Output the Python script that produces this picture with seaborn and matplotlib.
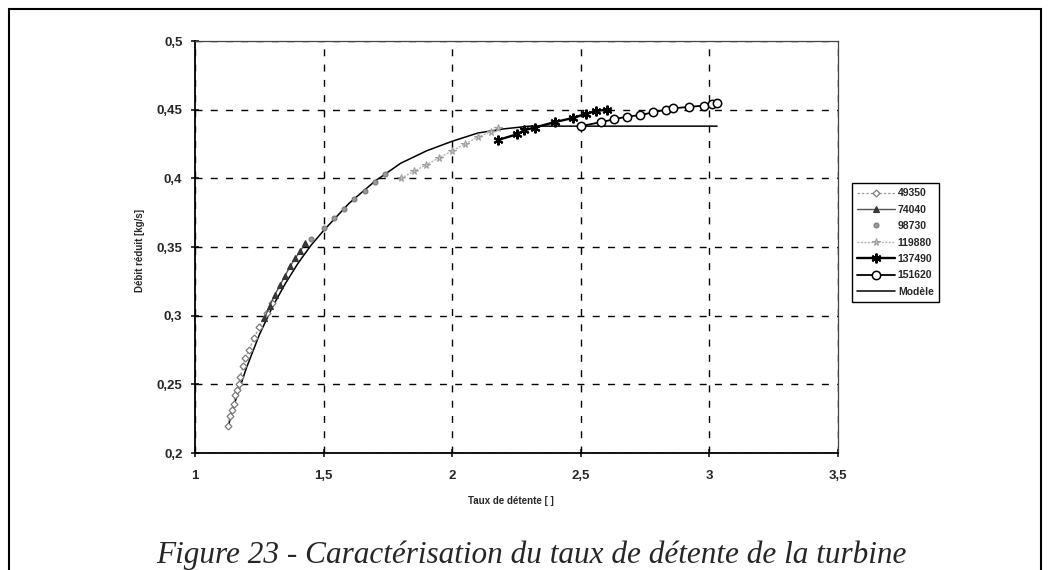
import matplotlib
matplotlib.use("Agg")
import matplotlib.pyplot as plt
import matplotlib.patches as mpatches
import seaborn as sns
import pandas as pd

# ---------------- data ----------------
x_49350 = [1.128, 1.136, 1.144, 1.150, 1.156, 1.163, 1.170, 1.175, 1.187, 1.195, 1.21, 1.23, 1.25, 1.28, 1.30]
y_49350 = [0.220, 0.227, 0.231, 0.236, 0.242, 0.246, 0.250, 0.255, 0.263, 0.269, 0.275, 0.284, 0.292, 0.302, 0.309]

x_74040 = [1.27, 1.29, 1.31, 1.33, 1.35, 1.37, 1.39, 1.41, 1.428]
y_74040 = [0.298, 0.307, 0.315, 0.322, 0.329, 0.336, 0.342, 0.347, 0.353]

x_98730 = [1.45, 1.50, 1.54, 1.58, 1.62, 1.66, 1.70, 1.74]
y_98730 = [0.356, 0.364, 0.371, 0.378, 0.385, 0.391, 0.397, 0.403]

x_119880 = [1.80, 1.85, 1.90, 1.95, 2.00, 2.05, 2.10, 2.15, 2.18]
y_119880 = [0.400, 0.405, 0.410, 0.415, 0.420, 0.425, 0.430, 0.434, 0.437]

x_137490 = [2.18, 2.25, 2.28, 2.32, 2.40, 2.47, 2.52, 2.56, 2.60]
y_137490 = [0.428, 0.432, 0.435, 0.437, 0.441, 0.444, 0.447, 0.449, 0.450]

x_151620 = [2.50, 2.58, 2.63, 2.68, 2.73, 2.78, 2.83, 2.86, 2.92, 2.98, 3.01, 3.03]
y_151620 = [0.438, 0.441, 0.443, 0.445, 0.446, 0.448, 0.450, 0.451, 0.452, 0.453, 0.454, 0.455]

x_model = [1.13, 1.15, 1.20, 1.25, 1.30, 1.35, 1.40, 1.45, 1.50, 1.60, 1.70, 1.80, 1.90, 2.00, 2.10, 2.20, 2.30, 3.03]
y_model = [0.220, 0.234, 0.262, 0.286, 0.306, 0.323, 0.338, 0.351, 0.362, 0.382, 0.398, 0.411, 0.420, 0.427, 0.433, 0.436, 0.438, 0.438]

series_names = ["49350", "74040", "98730", "119880", "137490", "151620", "Modèle"]

x_ticks = [1.0, 1.5, 2.0, 2.5, 3.0, 3.5]
x_ticklabels = ["1", "1,5", "2", "2,5", "3", "3,5"]
y_ticks = [0.2, 0.25, 0.3, 0.35, 0.4, 0.45, 0.5]
y_ticklabels = ["0,2", "0,25", "0,3", "0,35", "0,4", "0,45", "0,5"]

x_label = "Taux de détente [ ]"
y_label = "Débit réduit [kg/s]"
caption = "Figure 23 - Caractérisation du taux de détente de la turbine"

# ---------------- style ----------------
sns.set_style("white")
plt.rcParams["font.family"] = ["Liberation Sans", "DejaVu Sans"]

fig = plt.figure(figsize=(10.5, 5.7), dpi=100)
ax = fig.add_axes([195 / 1050, 1 - 453 / 570, (838 - 195) / 1050, (453 - 41) / 570])

styles = [
    dict(color="#9a9a9a", marker="D", markersize=3.5, markerfacecolor="white",
         markeredgecolor="#7a7a7a", markeredgewidth=0.9,
         linestyle=(0, (2, 1.5)), linewidth=0.9),
    dict(color="#555555", marker="^", markersize=5, markerfacecolor="#3a3a3a",
         markeredgecolor="#333333", markeredgewidth=0.8, linestyle="-", linewidth=1.0),
    dict(color="#bbbbbb", marker="o", markersize=3.5, markerfacecolor="#999999",
         markeredgecolor="#777777", markeredgewidth=0.8, linestyle="none"),
    dict(color="#b5b5b5", marker="*", markersize=5.5, markerfacecolor="#c8c8c8",
         markeredgecolor="#a0a0a0", markeredgewidth=0.8,
         linestyle=(0, (1.5, 1)), linewidth=1.0),
    dict(color="black", marker=(6, 2, 0), markersize=7, markeredgewidth=1.5,
         markeredgecolor="black", markerfacecolor="black",
         linestyle="-", linewidth=1.7),
    dict(color="black", marker="o", markersize=6, markerfacecolor="white",
         markeredgecolor="black", markeredgewidth=1.1, linestyle="-", linewidth=1.3),
    dict(color="black", marker=None, linestyle="-", linewidth=1.1),
]
xs = [x_49350, x_74040, x_98730, x_119880, x_137490, x_151620, x_model]
ys = [y_49350, y_74040, y_98730, y_119880, y_137490, y_151620, y_model]
order = [6, 0, 1, 2, 3, 4, 5]  # draw model first so markers sit above

handles = {}
for i in order:
    df = pd.DataFrame({"x": xs[i], "y": ys[i]})
    sns.lineplot(data=df, x="x", y="y", ax=ax, estimator=None, sort=False,
                 label=series_names[i], **styles[i])
    handles[i] = ax.get_lines()[-1]

if ax.get_legend():
    ax.get_legend().remove()

ax.set_xlim(1.0, 3.5)
ax.set_ylim(0.2, 0.5)
ax.set_xticks(x_ticks)
ax.set_xticklabels(x_ticklabels)
ax.set_yticks(y_ticks)
ax.set_yticklabels(y_ticklabels)
ax.grid(True, color="black", linestyle=(0, (5, 6)), linewidth=1.0)
ax.set_axisbelow(True)

for s in ["left", "bottom"]:
    ax.spines[s].set_color("black")
    ax.spines[s].set_linewidth(1.3)
for s in ["top", "right"]:
    ax.spines[s].set_color("#444444")
    ax.spines[s].set_linewidth(0.9)

ax.tick_params(axis="both", direction="inout", length=6, width=1.1, color="black",
               labelsize=9.5)
ax.tick_params(axis="x", bottom=True, pad=9)
ax.tick_params(axis="y", left=True, pad=6)
for lab in ax.get_xticklabels() + ax.get_yticklabels():
    lab.set_fontweight("bold")

ax.set_xlabel("")
ax.set_ylabel("")
fig.text(511 / 1050, 1 - 501 / 570, x_label, ha="center", va="center",
         fontsize=7, fontweight="bold")
fig.text(140 / 1050, 1 - 250 / 570, y_label, ha="center", va="center",
         rotation=90, fontsize=7, fontweight="bold")

leg = fig.legend([handles[i] for i in range(7)], series_names,
                 loc="upper left", bbox_to_anchor=(852 / 1050, 1 - 183 / 570),
                 frameon=True, fancybox=False, edgecolor="black", framealpha=1,
                 prop=dict(size=7.5, weight="bold"), handlelength=3.6,
                 handletextpad=0.3, labelspacing=0.62, borderpad=0.5,
                 borderaxespad=0)
leg.get_frame().set_linewidth(1.0)

fig.text(531 / 1050, 1 - 563 / 570, caption, ha="center", va="baseline",
         fontsize=22.5, fontstyle="italic",
         family=["Liberation Serif", "DejaVu Serif"])

frame = mpatches.Rectangle((9 / 1050, -0.2), (1041 - 9) / 1050, 1.2 - 9 / 570,
                           transform=fig.transFigure, fill=False,
                           edgecolor="black", linewidth=1.5)
fig.patches.append(frame)

fig.savefig("out.png", dpi=100)
